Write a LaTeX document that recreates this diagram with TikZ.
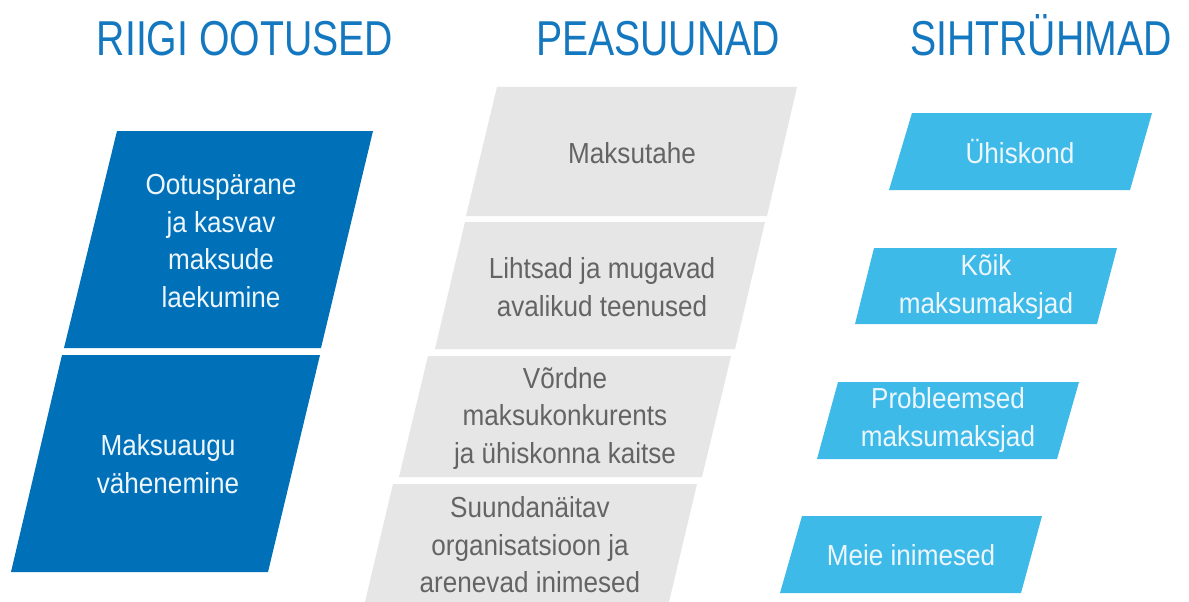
\documentclass[tikz,border=0pt]{standalone}
\usepackage{fontspec}
\setmainfont{Liberation Sans}[FakeStretch=0.9]
\newfontfamily\titlefont{Liberation Sans}[FakeStretch=0.8]
\definecolor{titleblue}{RGB}{20,120,192}
\definecolor{dblue}{RGB}{0,112,184}
\definecolor{lblue}{RGB}{62,186,233}
\definecolor{gbox}{RGB}{230,230,230}
\definecolor{gtext}{RGB}{100,100,100}
\definecolor{wtext}{RGB}{236,246,252}
\tikzset{
  ttl/.style={font=\titlefont\fontsize{49}{55}\selectfont, text=titleblue, anchor=base, inner sep=0pt},
  wlab/.style={font=\fontsize{29}{37.5}\selectfont, text=wtext, align=center, inner sep=0pt},
  glab/.style={font=\fontsize{29}{37.5}\selectfont, text=gtext, align=center, inner sep=0pt},
}
\begin{document}
\begin{tikzpicture}[x=1pt,y=-1pt]
\useasboundingbox (0,0) rectangle (1189,602);
\fill[white] (0,0) rectangle (1189,602);
% titles
\node[ttl] (t1) at (245,56) {RIIGI OOTUSED};
\node[ttl] (t2) at (658,56) {PEASUUNAD};
\node[ttl] (t3) at (1041,56) {SIHTRÜHMAD};
% dark blue
\fill[dblue] (117,131) -- (373,131) -- (321,348) -- (64,348) -- cycle;
\fill[dblue] (62,355) -- (320,355) -- (268,572) -- (11,572) -- cycle;
\node[wlab] (d1) at (221,241) {Ootuspärane\\ja kasvav\\maksude\\laekumine};
\node[wlab] (d2) at (168,464) {Maksuaugu\\vähenemine};
% gray
\fill[gbox] (497,87) -- (797,87) -- (767,216) -- (466,216) -- cycle;
\fill[gbox] (465,222) -- (765,222) -- (735,349) -- (435,349) -- cycle;
\fill[gbox] (428,356) -- (731,356) -- (702,477) -- (399,477) -- cycle;
\fill[gbox] (393,484) -- (697,484) -- (669,602) -- (365,602) -- cycle;
\node[glab] (g1) at (632,153) {Maksutahe};
\node[glab] (g2) at (602,287) {Lihtsad ja mugavad\\avalikud teenused};
\node[glab] (g3) at (565,418) {Võrdne\\maksukonkurents\\ja ühiskonna kaitse};
\node[glab] (g4) at (530,545) {Suundanäitav\\organisatsioon ja\\arenevad inimesed};
% light blue
\fill[lblue] (912,113) -- (1152,113) -- (1130,190) -- (889,190) -- cycle;
\fill[lblue] (874,248) -- (1117,248) -- (1097,324) -- (855,324) -- cycle;
\fill[lblue] (838,382) -- (1079,382) -- (1057,459) -- (817,459) -- cycle;
\fill[lblue] (802,516) -- (1042,516) -- (1021,593) -- (780,593) -- cycle;
\node[wlab] (l1) at (1020,152) {Ühiskond};
\node[wlab] (l2) at (986,287) {Kõik\\maksumaksjad};
\node[wlab] (l3) at (948,420) {Probleemsed\\maksumaksjad};
\node[wlab] (l4) at (911,555) {Meie inimesed};
\end{tikzpicture}
\end{document}
